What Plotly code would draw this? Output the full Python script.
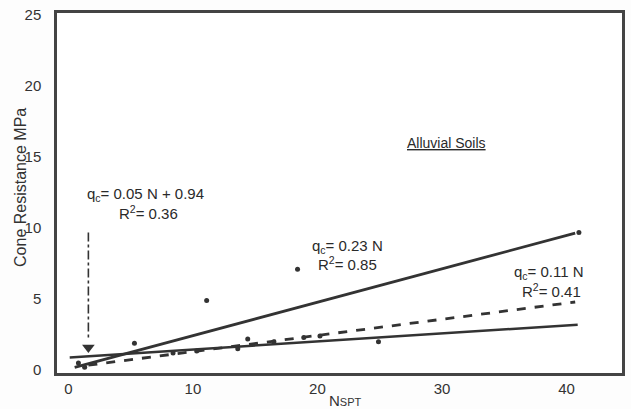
import plotly.graph_objects as go

# Regression lines (N, qc) end points
upper_x = [0.5, 40.7]          # qc = 0.23 N
upper_y = [0.2, 9.65]
dashed_x = [1.6, 40.7]         # qc = 0.11 N
dashed_y = [0.35, 4.8]
lower_x = [0.1, 40.9]          # qc = 0.05 N + 0.94
lower_y = [0.9, 3.2]

# Data points
pts_x = [0.8, 1.3, 5.3, 11.1, 18.4, 41.0, 8.4, 10.3, 13.6, 14.4, 16.5, 18.9, 20.2, 24.9]
pts_y = [0.5, 0.2, 1.9, 4.9, 7.1, 9.7, 1.2, 1.35, 1.5, 2.2, 2.0, 2.3, 2.4, 2.0]

# Arrow from label to lower line
arrow_x = [1.6, 1.6]
arrow_y = [9.7, 2.1]
arrow_tip_x = [1.6]
arrow_tip_y = [1.6]

x_ticks = [0, 10, 20, 30, 40]
y_ticks = [0, 5, 10, 15, 20, 25]

ink = "#333333"
font = "Liberation Sans, Arial, sans-serif"

fig = go.Figure()
fig.add_trace(go.Scatter(x=upper_x, y=upper_y, mode="lines",
                         line=dict(color=ink, width=2.8)))
fig.add_trace(go.Scatter(x=dashed_x, y=dashed_y, mode="lines",
                         line=dict(color=ink, width=2.8, dash="dash")))
fig.add_trace(go.Scatter(x=lower_x, y=lower_y, mode="lines",
                         line=dict(color=ink, width=2.5)))
fig.add_trace(go.Scatter(x=pts_x, y=pts_y, mode="markers",
                         marker=dict(color=ink, size=5)))
fig.add_trace(go.Scatter(x=arrow_x, y=arrow_y, mode="lines",
                         line=dict(color=ink, width=1.6, dash="dashdot")))
fig.add_trace(go.Scatter(x=arrow_tip_x, y=arrow_tip_y, mode="markers",
                         marker=dict(color=ink, size=11, symbol="triangle-down")))

ann_font = dict(family=font, size=15, color="#2a2a2a")
labels = [
    ("q<sub>c</sub>= 0.05 N + 0.94", 6.2, 12.4),
    ("R<sup>2</sup>= 0.36", 6.4, 11.1),
    ("q<sub>c</sub>= 0.23 N", 22.4, 8.7),
    ("R<sup>2</sup>= 0.85", 22.4, 7.5),
    ("q<sub>c</sub>= 0.11 N", 38.6, 6.9),
    ("R<sup>2</sup>= 0.41", 38.8, 5.6),
]
for txt, ax, ay in labels:
    fig.add_annotation(x=ax, y=ay, text=txt, showarrow=False, font=ann_font)

fig.add_annotation(x=30.4, y=16.0, text="<u>Alluvial Soils</u>", showarrow=False,
                   font=dict(family=font, size=14, color="#2a2a2a"))

# Axis titles placed as text
fig.add_annotation(xref="paper", yref="paper", x=-0.0637, y=0.514,
                   xanchor="center", yanchor="middle",
                   text="Cone Resistance MPa", textangle=-90, showarrow=False,
                   font=dict(family=font, size=16, color="#333"))
fig.add_annotation(xref="paper", yref="paper", x=0.5115, y=-0.075,
                   xanchor="center", yanchor="middle",
                   text="N<span style='font-size:11px'>SPT</span>", showarrow=False,
                   font=dict(family=font, size=15, color="#333"))

fig.update_layout(
    width=631, height=409,
    margin=dict(l=57, r=9, t=13, b=36),
    paper_bgcolor="#fdfdfd", plot_bgcolor="#ffffff",
    showlegend=False,
    font=dict(family=font, size=15, color="#333"),
)
fig.update_xaxes(range=[-0.92, 44.46], tickvals=x_ticks, showgrid=False, zeroline=False,
                 showline=True, linecolor="#444", linewidth=2.5, mirror=True,
                 ticks="", tickfont=dict(size=15, color="#333"), automargin=False)
fig.update_yaxes(range=[-0.2, 25.15], tickvals=y_ticks, showgrid=False, zeroline=False,
                 showline=True, linecolor="#444", linewidth=2.5, mirror=True,
                 ticks="", tickfont=dict(size=15, color="#333"), ticklabelstandoff=10,
                 automargin=False)

fig.write_html("out.html", config={"displayModeBar": False},
               post_script="document.body.style.margin='0';document.body.style.overflow='hidden';")
